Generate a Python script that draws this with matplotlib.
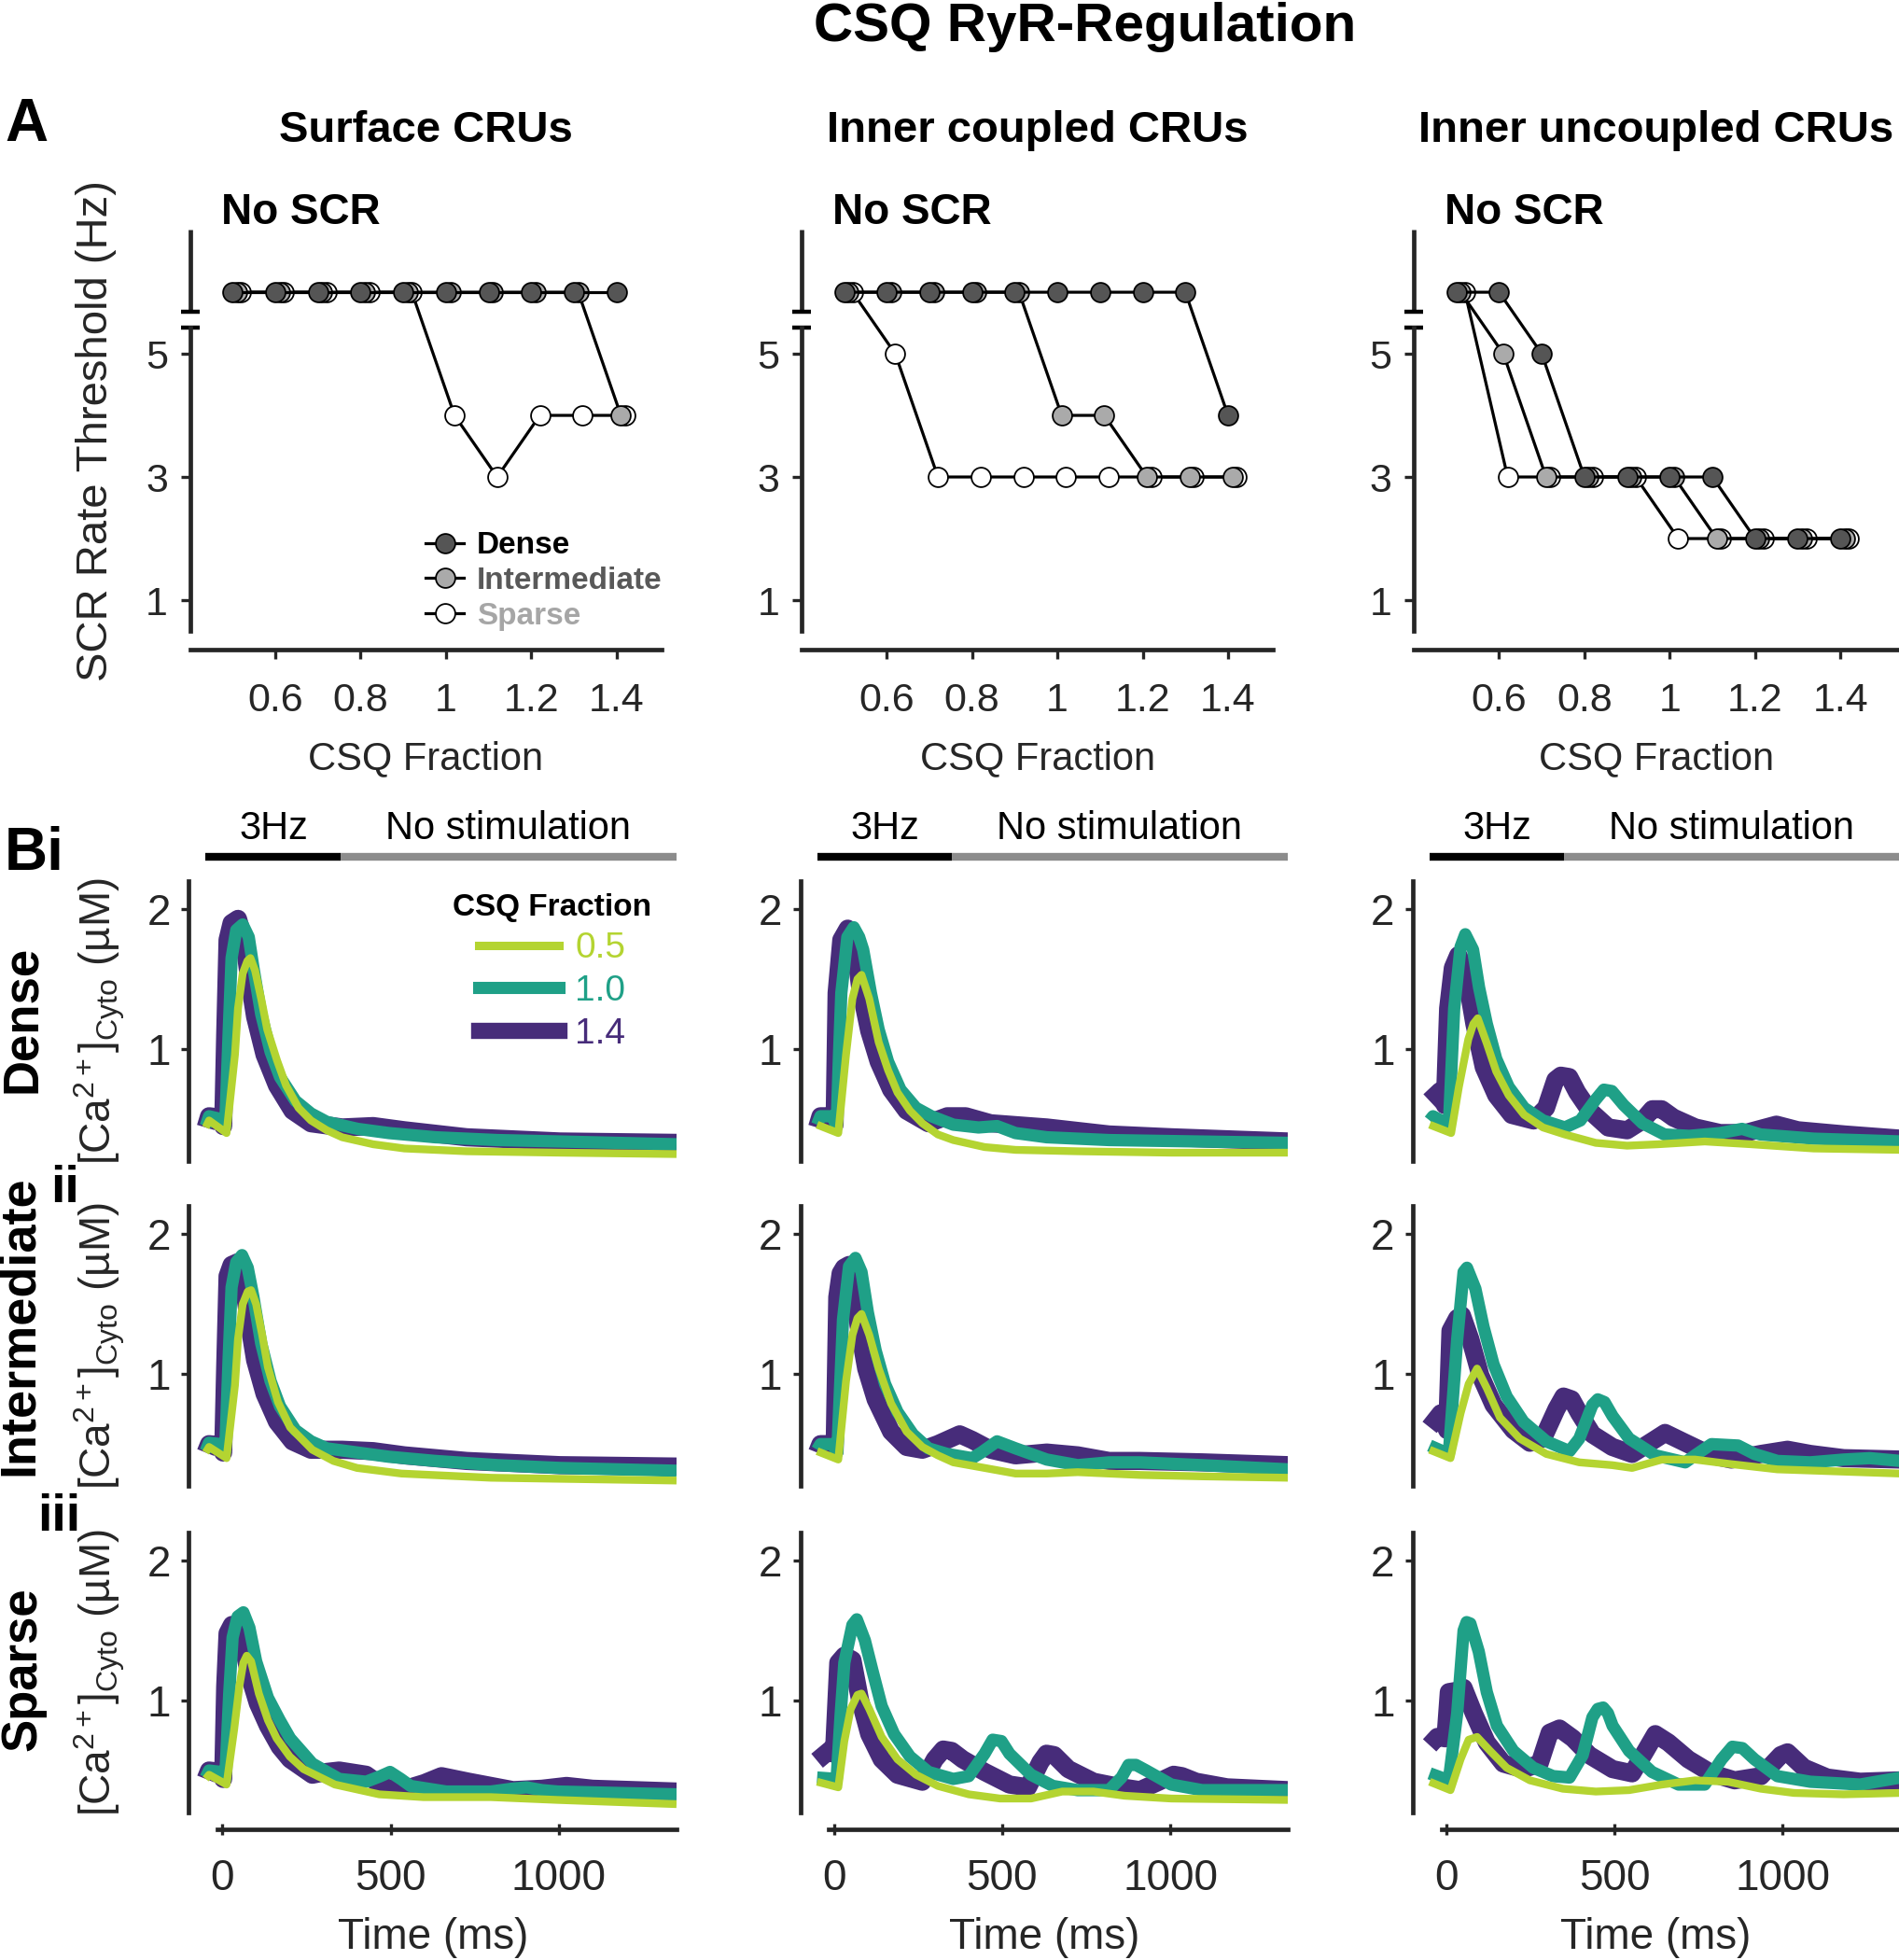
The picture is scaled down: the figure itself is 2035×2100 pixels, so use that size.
import matplotlib
matplotlib.use('Agg')
import matplotlib.pyplot as plt
import matplotlib.transforms as mtransforms
from matplotlib.lines import Line2D

plt.rcParams['font.family'] = ['Liberation Sans', 'DejaVu Sans']
plt.rcParams['mathtext.fontset'] = 'custom'
plt.rcParams['mathtext.rm'] = 'Liberation Sans'
plt.rcParams['mathtext.it'] = 'Liberation Sans:italic'
plt.rcParams['mathtext.bf'] = 'Liberation Sans:bold'

# ---------------- Panel A data ----------------
csq = [0.5, 0.6, 0.7, 0.8, 0.9, 1.0, 1.1, 1.2, 1.3, 1.4]
a_titles = ['Surface CRUs', 'Inner coupled CRUs', 'Inner uncoupled CRUs']
a_xticks = [0.6, 0.8, 1.0, 1.2, 1.4]
a_xticklabels = ['0.6', '0.8', '1', '1.2', '1.4']
a_yticks = [1, 3, 5]

surface_dense = [6, 6, 6, 6, 6, 6, 6, 6, 6, 6]
surface_inter = [6, 6, 6, 6, 6, 6, 6, 6, 6, 4]
surface_sparse = [6, 6, 6, 6, 6, 4, 3, 4, 4, 4]
coupled_dense = [6, 6, 6, 6, 6, 6, 6, 6, 6, 4]
coupled_inter = [6, 6, 6, 6, 6, 4, 4, 3, 3, 3]
coupled_sparse = [6, 5, 3, 3, 3, 3, 3, 3, 3, 3]
uncoupled_dense = [6, 6, 5, 3, 3, 3, 3, 2, 2, 2]
uncoupled_inter = [6, 5, 3, 3, 3, 3, 2, 2, 2, 2]
uncoupled_sparse = [6, 3, 3, 3, 3, 2, 2, 2, 2, 2]

# ---------------- Panel B data ----------------
csq_levels = ['0.5', '1.0', '1.4']
row_names = ['Dense', 'Intermediate', 'Sparse']
stim_on = [-50, 350]
stim_off = [350, 1350]

# Surface, dense
t_s1_05 = [-50, -40, 12, 37, 46, 60, 74, 83, 97, 115, 133, 162, 189, 226, 263, 310, 356, 448, 541, 726, 1003, 1350]
v_s1_05 = [0.44, 0.49, 0.40, 0.96, 1.29, 1.54, 1.63, 1.65, 1.56, 1.36, 1.14, 0.92, 0.74, 0.58, 0.49, 0.42, 0.37, 0.32, 0.29, 0.27, 0.26, 0.25]
t_s1_10 = [-50, -40, -5, 8, 18, 27, 41, 60, 78, 92, 115, 143, 171, 217, 263, 310, 402, 495, 633, 818, 1003, 1350]
v_s1_10 = [0.45, 0.52, 0.50, 0.45, 1.10, 1.65, 1.85, 1.89, 1.80, 1.58, 1.25, 0.98, 0.80, 0.63, 0.54, 0.48, 0.43, 0.40, 0.37, 0.35, 0.34, 0.32]
t_s1_14 = [-50, -40, -5, 2, 8, 15, 27, 46, 64, 78, 97, 125, 162, 208, 263, 356, 448, 541, 726, 1003, 1350]
v_s1_14 = [0.44, 0.52, 0.51, 0.45, 1.10, 1.78, 1.90, 1.93, 1.78, 1.52, 1.23, 0.96, 0.74, 0.56, 0.47, 0.44, 0.45, 0.42, 0.37, 0.34, 0.33]
# Surface, intermediate
t_s2_05 = [-50, -40, 12, 37, 46, 60, 75, 85, 100, 118, 135, 165, 201, 267, 330, 400, 532, 798, 1350]
v_s2_05 = [0.44, 0.48, 0.40, 0.92, 1.25, 1.50, 1.59, 1.60, 1.50, 1.28, 1.05, 0.80, 0.62, 0.46, 0.38, 0.33, 0.29, 0.26, 0.24]
t_s2_10 = [-50, -40, -5, 8, 18, 27, 41, 58, 75, 92, 115, 143, 171, 217, 263, 310, 402, 495, 633, 818, 1003, 1350]
v_s2_10 = [0.45, 0.51, 0.50, 0.45, 1.10, 1.62, 1.80, 1.85, 1.76, 1.55, 1.22, 0.95, 0.77, 0.60, 0.52, 0.47, 0.44, 0.41, 0.38, 0.35, 0.33, 0.31]
t_s2_14 = [-50, -40, -5, 2, 8, 15, 27, 46, 64, 78, 97, 125, 162, 208, 263, 356, 448, 541, 726, 1003, 1350]
v_s2_14 = [0.44, 0.50, 0.49, 0.44, 1.05, 1.70, 1.78, 1.80, 1.62, 1.38, 1.10, 0.86, 0.66, 0.52, 0.46, 0.46, 0.45, 0.42, 0.38, 0.35, 0.34]
# Surface, sparse
t_s3_05 = [-50, -40, 12, 35, 50, 62, 72, 85, 108, 135, 161, 200, 241, 334, 466, 598, 798, 997, 1350]
v_s3_05 = [0.44, 0.47, 0.40, 0.80, 1.10, 1.27, 1.32, 1.28, 1.05, 0.86, 0.73, 0.60, 0.51, 0.40, 0.33, 0.31, 0.31, 0.29, 0.26]
t_s3_10 = [-50, -40, -5, 8, 20, 30, 45, 62, 80, 100, 135, 170, 201, 267, 347, 427, 470, 498, 530, 559, 665, 798, 860, 904, 950, 997, 1350]
v_s3_10 = [0.45, 0.50, 0.49, 0.44, 1.05, 1.45, 1.60, 1.63, 1.52, 1.28, 1.02, 0.86, 0.73, 0.55, 0.44, 0.42, 0.46, 0.49, 0.44, 0.39, 0.35, 0.35, 0.37, 0.38, 0.36, 0.35, 0.33]
t_s3_14 = [-50, -40, -5, 2, 8, 15, 28, 50, 65, 81, 105, 135, 170, 201, 267, 310, 347, 427, 480, 532, 600, 651, 732, 864, 950, 1023, 1100, 1350]
v_s3_14 = [0.44, 0.50, 0.49, 0.44, 1.10, 1.48, 1.54, 1.52, 1.35, 1.17, 0.98, 0.82, 0.67, 0.58, 0.47, 0.49, 0.50, 0.47, 0.38, 0.36, 0.41, 0.46, 0.42, 0.36, 0.37, 0.39, 0.37, 0.35]

# Inner coupled, dense
t_c1_05 = [-50, 13, 36, 55, 70, 82, 105, 133, 161, 189, 226, 263, 309, 355, 448, 540, 725, 1003, 1350]
v_c1_05 = [0.46, 0.40, 0.96, 1.36, 1.50, 1.53, 1.36, 1.05, 0.85, 0.69, 0.56, 0.47, 0.39, 0.35, 0.30, 0.28, 0.27, 0.26, 0.26]
t_c1_10 = [-50, -40, -5, 8, 15, 22, 40, 59, 75, 87, 110, 133, 161, 198, 244, 290, 355, 430, 485, 540, 633, 818, 1350]
v_c1_10 = [0.46, 0.52, 0.52, 0.45, 0.95, 1.40, 1.80, 1.87, 1.80, 1.71, 1.40, 1.14, 0.91, 0.71, 0.58, 0.52, 0.46, 0.44, 0.45, 0.40, 0.37, 0.35, 0.33]
t_c1_14 = [-50, -40, -5, 2, 8, 22, 41, 64, 78, 105, 133, 170, 216, 281, 337, 392, 466, 633, 818, 1003, 1350]
v_c1_14 = [0.44, 0.52, 0.52, 0.46, 1.40, 1.78, 1.86, 1.71, 1.44, 1.13, 0.91, 0.71, 0.56, 0.47, 0.52, 0.52, 0.47, 0.44, 0.39, 0.37, 0.34]
# Inner coupled, intermediate
t_c2_05 = [-50, 13, 36, 55, 70, 82, 105, 133, 170, 216, 263, 309, 355, 448, 540, 633, 725, 910, 1095, 1350]
v_c2_05 = [0.45, 0.39, 0.95, 1.28, 1.40, 1.43, 1.28, 1.04, 0.79, 0.59, 0.48, 0.42, 0.37, 0.33, 0.29, 0.29, 0.30, 0.28, 0.27, 0.26]
t_c2_10 = [-50, -40, -5, 10, 27, 45, 64, 82, 101, 124, 152, 189, 235, 281, 337, 411, 438, 485, 540, 633, 725, 818, 910, 1095, 1350]
v_c2_10 = [0.46, 0.50, 0.50, 0.44, 1.39, 1.77, 1.83, 1.73, 1.44, 1.17, 0.93, 0.73, 0.57, 0.47, 0.43, 0.40, 0.44, 0.52, 0.47, 0.39, 0.35, 0.37, 0.37, 0.35, 0.32]
t_c2_14 = [-50, -40, -5, 2, 10, 20, 30, 45, 60, 73, 96, 124, 170, 216, 263, 309, 374, 411, 466, 540, 633, 725, 818, 910, 1095, 1350]
v_c2_14 = [0.44, 0.50, 0.50, 0.45, 1.55, 1.72, 1.76, 1.78, 1.70, 1.35, 1.04, 0.82, 0.59, 0.48, 0.46, 0.50, 0.57, 0.53, 0.46, 0.42, 0.44, 0.42, 0.38, 0.38, 0.37, 0.35]
# Inner coupled, sparse
t_c3_05 = [-50, 13, 31, 50, 70, 82, 105, 142, 189, 244, 309, 401, 494, 586, 679, 772, 864, 1003, 1350]
v_c3_05 = [0.42, 0.38, 0.71, 0.94, 1.04, 1.05, 0.94, 0.74, 0.58, 0.47, 0.39, 0.33, 0.30, 0.30, 0.35, 0.35, 0.32, 0.30, 0.29]
t_c3_10 = [-50, 8, 20, 31, 55, 68, 92, 115, 142, 179, 226, 281, 355, 401, 448, 472, 498, 522, 586, 651, 725, 818, 855, 876, 898, 929, 1003, 1095, 1350]
v_c3_10 = [0.45, 0.44, 0.90, 1.27, 1.54, 1.58, 1.43, 1.21, 0.96, 0.76, 0.60, 0.49, 0.44, 0.46, 0.62, 0.72, 0.71, 0.62, 0.47, 0.39, 0.36, 0.36, 0.45, 0.54, 0.54, 0.50, 0.40, 0.36, 0.36]
t_c3_14 = [-50, -10, 0, 13, 31, 55, 78, 105, 142, 189, 263, 300, 325, 350, 383, 448, 522, 577, 614, 632, 655, 697, 772, 855, 910, 966, 1010, 1035, 1077, 1169, 1350]
v_c3_14 = [0.57, 0.65, 0.62, 1.27, 1.32, 1.29, 1.00, 0.76, 0.58, 0.47, 0.42, 0.58, 0.65, 0.64, 0.58, 0.49, 0.40, 0.38, 0.56, 0.62, 0.61, 0.51, 0.42, 0.38, 0.36, 0.42, 0.47, 0.46, 0.42, 0.38, 0.36]

# Inner uncoupled, dense
t_u1_05 = [-50, 14, 37, 65, 80, 93, 120, 148, 185, 231, 287, 352, 444, 537, 629, 768, 907, 1092, 1350]
v_u1_05 = [0.46, 0.40, 0.73, 1.07, 1.18, 1.22, 1.04, 0.84, 0.67, 0.53, 0.44, 0.39, 0.33, 0.31, 0.32, 0.34, 0.32, 0.29, 0.28]
t_u1_10 = [-50, -40, 0, 8, 23, 42, 56, 79, 97, 120, 148, 185, 231, 287, 352, 398, 444, 468, 492, 527, 583, 648, 722, 814, 879, 934, 1092, 1350]
v_u1_10 = [0.49, 0.52, 0.47, 0.50, 1.29, 1.73, 1.82, 1.71, 1.44, 1.18, 0.93, 0.73, 0.58, 0.49, 0.44, 0.49, 0.64, 0.71, 0.70, 0.60, 0.47, 0.39, 0.38, 0.40, 0.43, 0.39, 0.36, 0.34]
t_u1_14 = [-50, -19, -5, 5, 19, 35, 56, 83, 111, 148, 194, 259, 296, 324, 340, 365, 389, 426, 481, 537, 583, 612, 640, 675, 740, 814, 888, 981, 1045, 1184, 1350]
v_u1_14 = [0.63, 0.70, 0.60, 1.29, 1.58, 1.67, 1.56, 1.18, 0.87, 0.67, 0.53, 0.49, 0.58, 0.78, 0.81, 0.80, 0.69, 0.56, 0.44, 0.42, 0.49, 0.57, 0.57, 0.51, 0.44, 0.40, 0.40, 0.46, 0.42, 0.39, 0.36]
# Inner uncoupled, intermediate
t_u2_05 = [-50, 12, 42, 66, 91, 120, 159, 218, 297, 395, 493, 552, 641, 739, 837, 984, 1350]
v_u2_05 = [0.46, 0.40, 0.72, 0.93, 1.04, 0.90, 0.69, 0.54, 0.43, 0.37, 0.35, 0.33, 0.39, 0.39, 0.36, 0.32, 0.29]
t_u2_10 = [-50, 7, 32, 51, 61, 86, 110, 140, 179, 229, 297, 366, 395, 434, 450, 470, 494, 543, 621, 710, 739, 788, 867, 916, 984, 1082, 1181, 1259, 1350]
v_u2_10 = [0.49, 0.43, 1.25, 1.73, 1.76, 1.61, 1.34, 1.07, 0.84, 0.66, 0.52, 0.45, 0.54, 0.78, 0.82, 0.80, 0.70, 0.54, 0.42, 0.37, 0.42, 0.50, 0.49, 0.43, 0.38, 0.37, 0.39, 0.40, 0.38]
t_u2_14 = [-50, -17, 2, 12, 32, 46, 71, 101, 140, 199, 248, 287, 327, 348, 372, 395, 434, 493, 552, 611, 650, 710, 788, 847, 935, 1014, 1082, 1181, 1350]
v_u2_14 = [0.62, 0.72, 0.60, 1.31, 1.40, 1.42, 1.25, 0.99, 0.78, 0.60, 0.51, 0.54, 0.75, 0.84, 0.82, 0.72, 0.57, 0.48, 0.43, 0.52, 0.58, 0.51, 0.42, 0.39, 0.43, 0.46, 0.43, 0.40, 0.39]
# Inner uncoupled, sparse
t_u3_05 = [-50, 12, 42, 66, 91, 130, 179, 248, 346, 444, 543, 641, 739, 837, 935, 1033, 1181, 1350]
v_u3_05 = [0.42, 0.36, 0.58, 0.72, 0.74, 0.64, 0.52, 0.43, 0.37, 0.35, 0.36, 0.40, 0.43, 0.42, 0.37, 0.34, 0.33, 0.34]
t_u3_10 = [-50, 7, 32, 51, 60, 71, 96, 120, 150, 199, 258, 317, 366, 405, 434, 450, 466, 480, 494, 543, 611, 690, 768, 818, 850, 880, 916, 984, 1082, 1230, 1350]
v_u3_10 = [0.48, 0.43, 0.91, 1.50, 1.56, 1.55, 1.35, 1.06, 0.82, 0.64, 0.52, 0.46, 0.45, 0.61, 0.88, 0.94, 0.95, 0.91, 0.82, 0.64, 0.49, 0.40, 0.40, 0.58, 0.67, 0.66, 0.58, 0.46, 0.42, 0.40, 0.45]
t_u3_14 = [-50, -27, -3, 7, 32, 51, 81, 120, 169, 228, 277, 307, 336, 376, 425, 494, 552, 592, 621, 660, 719, 788, 857, 935, 994, 1014, 1063, 1132, 1230, 1350]
v_u3_14 = [0.68, 0.74, 0.73, 1.06, 1.07, 1.09, 0.91, 0.70, 0.55, 0.51, 0.55, 0.77, 0.80, 0.73, 0.61, 0.51, 0.48, 0.64, 0.76, 0.70, 0.58, 0.48, 0.43, 0.46, 0.61, 0.63, 0.52, 0.45, 0.42, 0.43]

# ---------------- styles ----------------
AX = '#262626'
col_05, col_10, col_14 = '#b4d431', '#1fa087', '#472c7a'
lw_05, lw_10, lw_14 = 6.0, 9.5, 14.0
dense_fc, inter_fc, sparse_fc = '#555555', '#aaaaaa', '#ffffff'

fig = plt.figure(figsize=(20.35, 21.0), dpi=100)
W, H = 2035.0, 2100.0

def fx(px):
    return px / W

def fy(py):
    return 1 - py / H

# ---------------- Panel A ----------------
a_data = [
    (surface_dense, surface_inter, surface_sparse),
    (coupled_dense, coupled_inter, coupled_sparse),
    (uncoupled_dense, uncoupled_inter, uncoupled_sparse),
]
a_lefts = [203.6, 858.8, 1515.0]
a_xmax = [1.505, 1.506, 1.537]
a_top, a_bot = 243.8, 695.8
px_per_unit = 457.2
a_axes = []
for i in range(3):
    width_px = (a_xmax[i] - 0.4) * px_per_unit
    ax = fig.add_axes([fx(a_lefts[i]), fy(a_bot), width_px / W, (a_bot - a_top) / H])
    ax.set_xlim(0.4, a_xmax[i])
    ax.set_ylim(0.2, 7.05)
    dense, inter, sparse = a_data[i]
    for vals, fc, off in [(sparse, sparse_fc, 6.6), (inter, inter_fc, 3.3), (dense, dense_fc, 0.0)]:
        tr = ax.transData + mtransforms.ScaledTranslation(off / 72.0, 0, fig.dpi_scale_trans)
        ax.plot(csq, vals, '-', color='black', lw=2.3, marker='o', ms=15,
                mfc=fc, mec='black', mew=1.3, transform=tr, clip_on=False, zorder=3)
    for s in ['top', 'right']:
        ax.spines[s].set_visible(False)
    ax.spines['left'].set_bounds(0.5, 5.43)
    ax.spines['bottom'].set_bounds(0.4, a_xmax[i])
    for s in ['left', 'bottom']:
        ax.spines[s].set_linewidth(3.4)
        ax.spines[s].set_color(AX)
    bt = mtransforms.blended_transform_factory(ax.transAxes, ax.transData)
    ax.plot([0, 0], [5.68, 7.02], color=AX, lw=3.4, transform=bt, clip_on=False, solid_capstyle='butt')
    dx = 10.0 / width_px
    for yb in (5.43, 5.68):
        ax.plot([-dx, dx], [yb, yb], color='black', lw=3.2, transform=bt, clip_on=False, solid_capstyle='butt')
    ax.set_xticks(a_xticks)
    ax.set_xticklabels(a_xticklabels)
    ax.set_yticks(a_yticks)
    ax.tick_params(axis='both', colors=AX, labelsize=31, width=2.4, length=7, direction='out')
    ax.tick_params(axis='x', pad=18)
    ax.tick_params(axis='y', pad=10)
    ax.set_xlabel('CSQ Fraction', fontsize=30, color=AX)
    ax.xaxis.set_label_coords(0.5, -0.215)
    ax.patch.set_visible(False)
    a_axes.append(ax)
    fig.text(fx(a_lefts[i] + 33.4), fy(228), 'No SCR', fontsize=33, fontweight='bold', ha='left', va='center')
    fig.text(fx(a_lefts[i] + width_px / 2), fy(140), a_titles[i], fontsize=34, fontweight='bold', ha='center', va='center')

fig.text(fx(103), fy(462), 'SCR Rate Threshold (Hz)', fontsize=34, rotation=90, ha='center', va='center', color=AX)

leg_handles = [
    Line2D([], [], color='black', lw=2.3, marker='o', ms=15, mfc=dense_fc, mec='black', mew=1.3),
    Line2D([], [], color='black', lw=2.3, marker='o', ms=15, mfc=inter_fc, mec='black', mew=1.3),
    Line2D([], [], color='black', lw=2.3, marker='o', ms=15, mfc=sparse_fc, mec='black', mew=1.3),
]
a_axes[0].legend(leg_handles, row_names, loc='upper left', bbox_to_anchor=(0.499, 0.28),
                 frameon=False, borderpad=0, borderaxespad=0, handlelength=1.25, handletextpad=0.4,
                 labelspacing=0.2, prop={'weight': 'bold', 'size': 24},
                 labelcolor=['#000000', '#595959', '#a6a6a6'])

# ---------------- Panel B ----------------
b_curves = {
    (0, 0): [(t_s1_14, v_s1_14), (t_s1_10, v_s1_10), (t_s1_05, v_s1_05)],
    (0, 1): [(t_s2_14, v_s2_14), (t_s2_10, v_s2_10), (t_s2_05, v_s2_05)],
    (0, 2): [(t_s3_14, v_s3_14), (t_s3_10, v_s3_10), (t_s3_05, v_s3_05)],
    (1, 0): [(t_c1_14, v_c1_14), (t_c1_10, v_c1_10), (t_c1_05, v_c1_05)],
    (1, 1): [(t_c2_14, v_c2_14), (t_c2_10, v_c2_10), (t_c2_05, v_c2_05)],
    (1, 2): [(t_c3_14, v_c3_14), (t_c3_10, v_c3_10), (t_c3_05, v_c3_05)],
    (2, 0): [(t_u1_14, v_u1_14), (t_u1_10, v_u1_10), (t_u1_05, v_u1_05)],
    (2, 1): [(t_u2_14, v_u2_14), (t_u2_10, v_u2_10), (t_u2_05, v_u2_05)],
    (2, 2): [(t_u3_14, v_u3_14), (t_u3_10, v_u3_10), (t_u3_05, v_u3_05)],
}
styles = [(col_14, lw_14), (col_10, lw_10), (col_05, lw_05)]
b_lefts = [202.4, 857.6, 1514.0]
b_xmax = [1350, 1350, 1345]
ms_px = 0.3604
row_tops = [944.0, 1292.3, 1642.0]
row_h = 300.0

ylab = r'[Ca$^{2+}$]$_{\mathrm{Cyto}}$ (µM)'
b_axes = {}
for c in range(3):
    for r in range(3):
        wpx = (b_xmax[c] + 100) * ms_px
        ax = fig.add_axes([fx(b_lefts[c]), fy(row_tops[r] + row_h), wpx / W, row_h / H])
        ax.set_xlim(-100, b_xmax[c])
        ax.set_ylim(0.2, 2.2)
        for (tt, vv), (colr, lw) in zip(b_curves[(c, r)], styles):
            ax.plot(tt, vv, color=colr, lw=lw, solid_joinstyle='round', solid_capstyle='butt')
        for s in ['top', 'right']:
            ax.spines[s].set_visible(False)
        ax.spines['left'].set_linewidth(3.4)
        ax.spines['left'].set_color(AX)
        ax.set_yticks([1, 2])
        ax.tick_params(axis='y', colors=AX, labelsize=33, width=2.4, length=6, direction='out', pad=8)
        if r == 2:
            ax.spines['bottom'].set_position(('outward', 13))
            ax.spines['bottom'].set_bounds(-15, b_xmax[c])
            ax.spines['bottom'].set_linewidth(3.4)
            ax.spines['bottom'].set_color(AX)
            ax.set_xticks([0, 500, 1000])
            ax.tick_params(axis='x', colors=AX, labelsize=33, width=2.4, length=8, direction='inout', pad=18)
            ax.set_xlabel('Time (ms)', fontsize=33, color=AX)
            ax.xaxis.set_label_coords(0.5, -0.375)
        else:
            ax.spines['bottom'].set_visible(False)
            ax.set_xticks([])
        if r == 0:
            ax.plot(stim_on, [2.37, 2.37], color='black', lw=6, clip_on=False, solid_capstyle='butt')
            ax.plot(stim_off, [2.37, 2.37], color='#8c8c8c', lw=6, clip_on=False, solid_capstyle='butt')
            ax.text(152, 2.57, '3Hz', fontsize=30, ha='center', va='center', color='black')
            ax.text(848, 2.57, 'No stimulation', fontsize=30, ha='center', va='center', color='black')
        ax.patch.set_visible(False)
        b_axes[(c, r)] = ax

for r in range(3):
    fig.text(fx(107), fy(row_tops[r] + row_h / 2), ylab, fontsize=33, rotation=90,
             ha='center', va='center', color=AX)

row_label_y = [1092, 1420, 1788]
row_label_x = [24, 21, 24]
row_label_size = [38, 39, 38]
for r in range(3):
    fig.text(fx(row_label_x[r]), fy(row_label_y[r]), row_names[r], fontsize=row_label_size[r],
             fontweight='bold', rotation=90, ha='center', va='center')

leg2 = [Line2D([], [], color=col_05, lw=6.5), Line2D([], [], color=col_10, lw=9.4),
        Line2D([], [], color=col_14, lw=12.5)]
b_axes[(0, 0)].legend(leg2, csq_levels, title='CSQ Fraction', loc='upper left',
                      bbox_to_anchor=(0.541, 0.955), frameon=False, borderpad=0, borderaxespad=0,
                      handlelength=2.2, handletextpad=0.45, labelspacing=0.25,
                      prop={'size': 28}, title_fontproperties={'weight': 'bold', 'size': 24},
                      labelcolor=[col_05, col_10, col_14])

# ---------------- panel letters & title ----------------
fig.text(fx(1163), fy(29), 'CSQ RyR-Regulation', fontsize=42, fontweight='bold', ha='center', va='center')
fig.text(fx(5), fy(134), 'A', fontsize=46, fontweight='bold', ha='left', va='center')
fig.text(fx(5), fy(915), 'Bi', fontsize=46, fontweight='bold', ha='left', va='center')
fig.text(fx(54), fy(1274), 'ii', fontsize=40, fontweight='bold', ha='left', va='center')
fig.text(fx(40), fy(1626), 'iii', fontsize=40, fontweight='bold', ha='left', va='center')

fig.savefig('out.png', dpi=100)
